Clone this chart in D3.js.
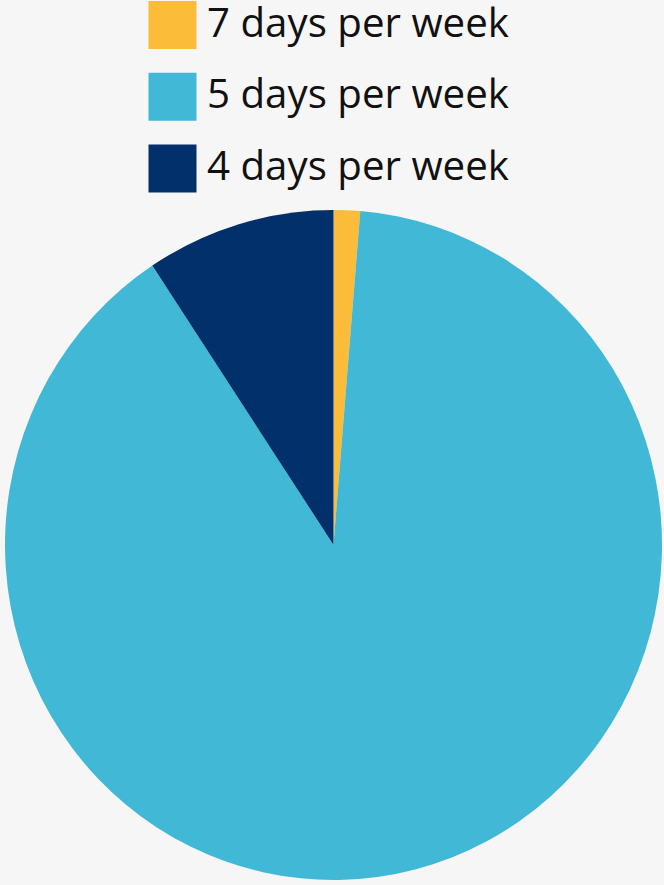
<!DOCTYPE html>
<html><head><meta charset="utf-8">
<script src="https://cdn.jsdelivr.net/npm/d3@7"></script>
<style>html,body{margin:0;padding:0;background:#f6f6f6;}svg{display:block;}</style>
</head><body>
<svg id="c" width="664" height="885"></svg>
<script>
const categories = ["7 days per week", "5 days per week", "4 days per week"];
const values = [1.3, 89.4, 9.3];
const colors = ["#FBBC3A", "#42B8D7", "#02306A"];

const svg = d3.select("#c");
svg.append("rect").attr("width",664).attr("height",885).attr("fill","#f6f6f6");

const cx = 333.5, cy = 545, rx = 328.5, ry = 335;
const data = categories.map((c,i)=>({cat:c, value:values[i], color:colors[i]}));
const pie = d3.pie().value(d=>d.value).sort(null);
const arc = d3.arc().innerRadius(0).outerRadius(rx);
svg.append("g")
  .attr("transform",`translate(${cx},${cy}) scale(1,${ry/rx})`)
  .selectAll("path").data(pie(data)).join("path")
  .attr("d",arc).attr("fill",d=>d.data.color);

const leg = svg.append("g");
const y = d3.scalePoint().domain(categories).range([1,144.5]);
const items = leg.selectAll("g").data(data).join("g")
  .attr("transform",d=>`translate(148.5,${y(d.cat)})`);
items.append("rect").attr("width",48).attr("height",48).attr("fill",d=>d.color);
items.append("text").attr("x",58.5).attr("y",35.5)
  .attr("font-family","'Open Sans', sans-serif").attr("font-size",40)
  .attr("fill","#111").text(d=>d.cat)
  .each(function(){
    const w = this.getComputedTextLength();
    const target = 302;
    d3.select(this).attr("font-size", 40*target/w);
  });
</script>
</body></html>
